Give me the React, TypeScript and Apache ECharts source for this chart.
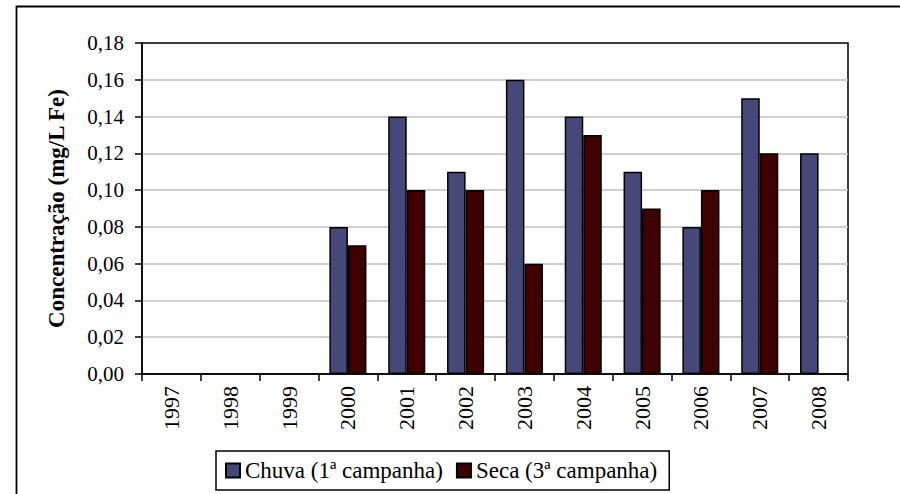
import React, { useEffect, useRef } from "react";
import * as echarts from "echarts";

const years = ["1997", "1998", "1999", "2000", "2001", "2002", "2003", "2004", "2005", "2006", "2007", "2008"];
const chuva = [null, null, null, 0.08, 0.14, 0.11, 0.16, 0.14, 0.11, 0.08, 0.15, 0.12];
const seca = [null, null, null, 0.07, 0.10, 0.10, 0.06, 0.13, 0.09, 0.10, 0.12, null];
const seriesNames = ["Chuva (1ª campanha)", "Seca (3ª campanha)"];
const yTitle = "Concentração (mg/L Fe)";

const FONT = "Times New Roman, Liberation Serif, serif";

export default function App() {
  const ref = useRef<HTMLDivElement>(null);
  useEffect(() => {
    document.body.style.margin = "0";
    const chart = echarts.init(ref.current!, null, { renderer: "svg" });
    chart.setOption({
      animation: false,
      backgroundColor: "#fff",
      textStyle: { fontFamily: FONT, color: "#000" },
      graphic: [
        {
          type: "rect",
          shape: { x: 16.5, y: 6.5, width: 900, height: 500 },
          style: { fill: "none", stroke: "#000", lineWidth: 1.8 },
          z: -1,
        },
      ],
      grid: {
        left: 142,
        right: 52,
        top: 43,
        bottom: 120,
        show: true,
        borderColor: "#000",
        borderWidth: 1.5,
        backgroundColor: "#fff",
      },
      legend: {
        left: 216,
        top: 451,
        itemWidth: 14,
        itemHeight: 14,
        itemGap: 13,
        padding: [8, 12, 8, 9],
        borderColor: "#000",
        borderWidth: 1.5,
        backgroundColor: "#fff",
        textStyle: { fontFamily: FONT, fontSize: 23, color: "#000", lineHeight: 22 },
        data: seriesNames.map((n) => ({ name: n, icon: "rect" })),
      },
      xAxis: {
        type: "category",
        data: years,
        axisLine: { lineStyle: { color: "#000", width: 1.5 } },
        axisTick: { show: true, length: 7, lineStyle: { color: "#000", width: 1.5 } },
        axisLabel: { rotate: 90, fontFamily: FONT, fontSize: 22, color: "#000", margin: 12 },
      },
      yAxis: {
        type: "value",
        min: 0,
        max: 0.18,
        interval: 0.02,
        name: yTitle,
        nameLocation: "middle",
        nameRotate: 90,
        nameGap: 74,
        nameTextStyle: { fontFamily: FONT, fontSize: 23, fontWeight: "bold", color: "#000" },
        axisLine: { show: true, lineStyle: { color: "#000", width: 1.5 } },
        axisTick: { show: true, length: 7, lineStyle: { color: "#000", width: 1.5 } },
        axisLabel: {
          fontFamily: FONT,
          fontSize: 21,
          color: "#000",
          margin: 18,
          formatter: (v: number) => v.toFixed(2).replace(".", ","),
        },
        splitLine: { show: true, showMaxLine: false, showMinLine: false, lineStyle: { color: "#c0c0c0", width: 1.5 } },
      },
      series: [
        {
          name: seriesNames[0],
          type: "bar",
          data: chuva,
          barGap: "0%",
          barCategoryGap: "37%",
          itemStyle: { color: "#47487a", borderColor: "#000", borderWidth: 1.5 },
        },
        {
          name: seriesNames[1],
          type: "bar",
          data: seca,
          barGap: "0%",
          barCategoryGap: "37%",
          itemStyle: { color: "#3f0000", borderColor: "#000", borderWidth: 1.5 },
        },
      ],
    });
    return () => chart.dispose();
  }, []);
  return <div ref={ref} style={{ width: 900, height: 494 }} />;
}
